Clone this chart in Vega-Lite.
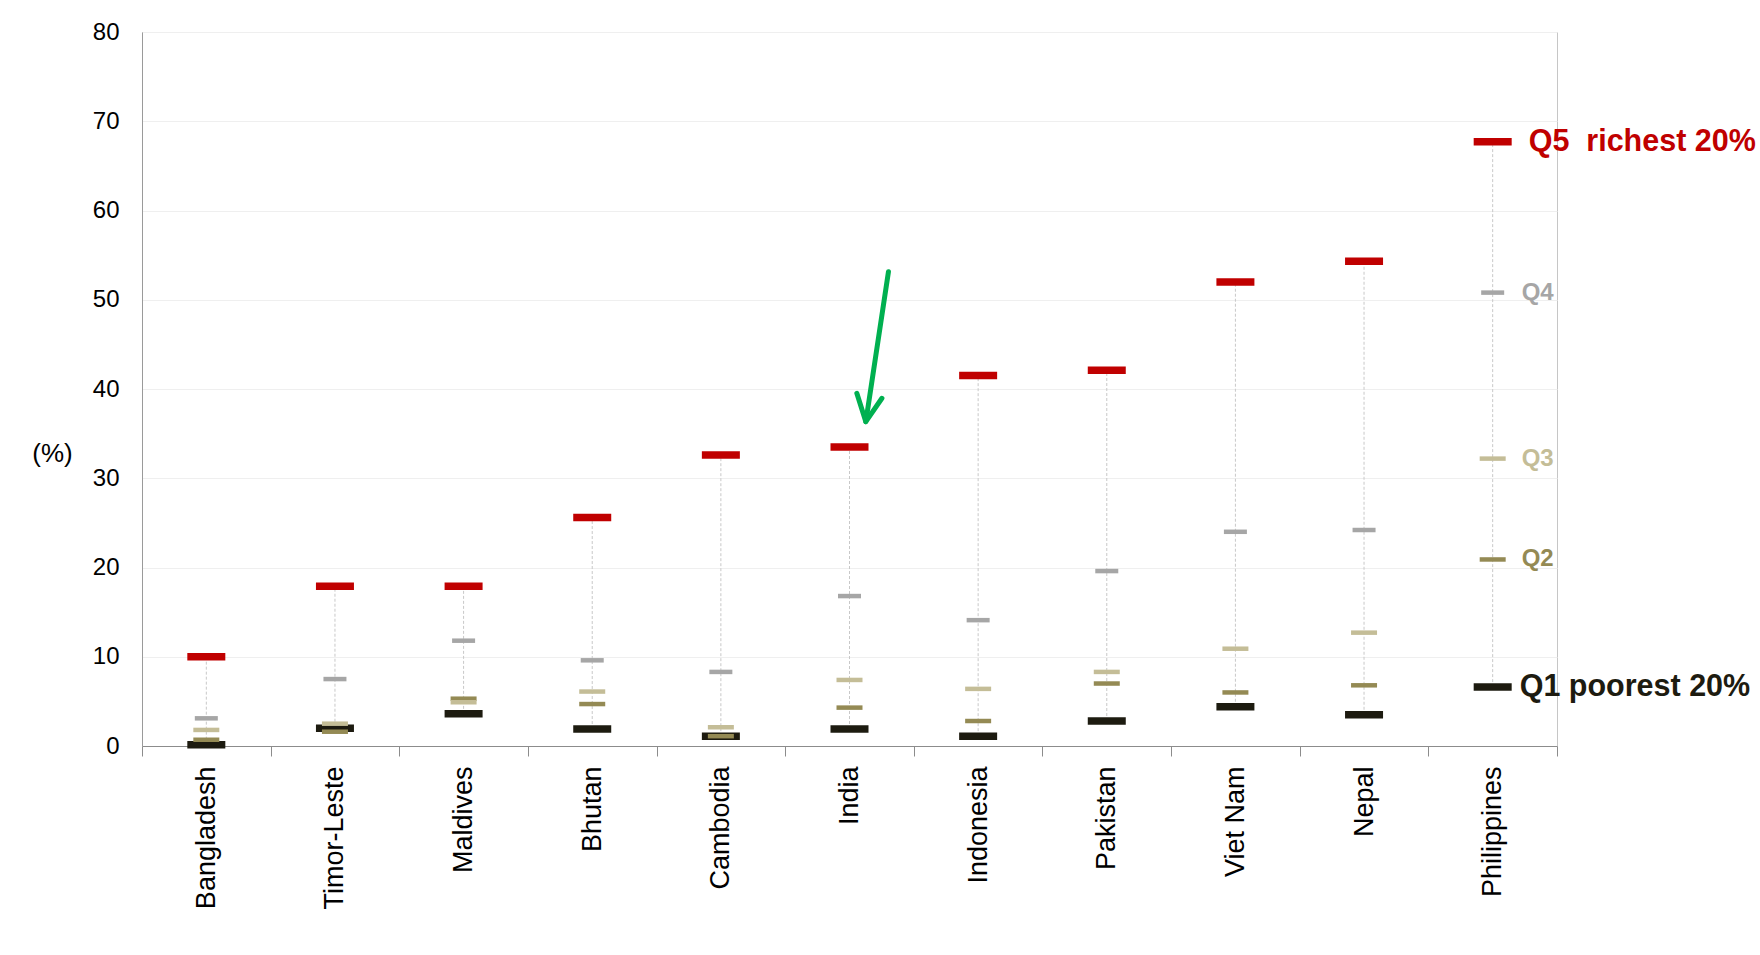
{
  "$schema": "https://vega.github.io/schema/vega-lite/v6.json",
  "width": 1415,
  "height": 714,
  "autosize": {"type": "none"},
  "padding": {"left": 142, "top": 32, "right": 203, "bottom": 209},
  "background": "white",
  "config": {
    "font": "Liberation Sans",
    "view": {"stroke": "#c6c6c6", "strokeWidth": 1},
    "tick": {"opacity": 1},
    "text": {"font": "Liberation Sans"}
  },
  "datasets": {
    "quintiles": [
      {"country": "Bangladesh", "quintile": "Q1", "value": 0.15},
      {"country": "Bangladesh", "quintile": "Q2", "value": 0.7},
      {"country": "Bangladesh", "quintile": "Q3", "value": 1.8},
      {"country": "Bangladesh", "quintile": "Q4", "value": 3.1},
      {"country": "Bangladesh", "quintile": "Q5", "value": 10.0},
      {"country": "Timor-Leste", "quintile": "Q1", "value": 2.0},
      {"country": "Timor-Leste", "quintile": "Q2", "value": 1.6},
      {"country": "Timor-Leste", "quintile": "Q3", "value": 2.5},
      {"country": "Timor-Leste", "quintile": "Q4", "value": 7.5},
      {"country": "Timor-Leste", "quintile": "Q5", "value": 17.9},
      {"country": "Maldives", "quintile": "Q1", "value": 3.6},
      {"country": "Maldives", "quintile": "Q2", "value": 5.3},
      {"country": "Maldives", "quintile": "Q3", "value": 4.9},
      {"country": "Maldives", "quintile": "Q4", "value": 11.8},
      {"country": "Maldives", "quintile": "Q5", "value": 17.9},
      {"country": "Bhutan", "quintile": "Q1", "value": 1.9},
      {"country": "Bhutan", "quintile": "Q2", "value": 4.7},
      {"country": "Bhutan", "quintile": "Q3", "value": 6.1},
      {"country": "Bhutan", "quintile": "Q4", "value": 9.6},
      {"country": "Bhutan", "quintile": "Q5", "value": 25.6},
      {"country": "Cambodia", "quintile": "Q1", "value": 1.1},
      {"country": "Cambodia", "quintile": "Q2", "value": 1.1},
      {"country": "Cambodia", "quintile": "Q3", "value": 2.1},
      {"country": "Cambodia", "quintile": "Q4", "value": 8.3},
      {"country": "Cambodia", "quintile": "Q5", "value": 32.6},
      {"country": "India", "quintile": "Q1", "value": 1.9},
      {"country": "India", "quintile": "Q2", "value": 4.3},
      {"country": "India", "quintile": "Q3", "value": 7.4},
      {"country": "India", "quintile": "Q4", "value": 16.8},
      {"country": "India", "quintile": "Q5", "value": 33.5},
      {"country": "Indonesia", "quintile": "Q1", "value": 1.1},
      {"country": "Indonesia", "quintile": "Q2", "value": 2.8},
      {"country": "Indonesia", "quintile": "Q3", "value": 6.4},
      {"country": "Indonesia", "quintile": "Q4", "value": 14.1},
      {"country": "Indonesia", "quintile": "Q5", "value": 41.5},
      {"country": "Pakistan", "quintile": "Q1", "value": 2.8},
      {"country": "Pakistan", "quintile": "Q2", "value": 7.0},
      {"country": "Pakistan", "quintile": "Q3", "value": 8.3},
      {"country": "Pakistan", "quintile": "Q4", "value": 19.6},
      {"country": "Pakistan", "quintile": "Q5", "value": 42.1},
      {"country": "Viet Nam", "quintile": "Q1", "value": 4.4},
      {"country": "Viet Nam", "quintile": "Q2", "value": 6.0},
      {"country": "Viet Nam", "quintile": "Q3", "value": 10.9},
      {"country": "Viet Nam", "quintile": "Q4", "value": 24.0},
      {"country": "Viet Nam", "quintile": "Q5", "value": 52.0},
      {"country": "Nepal", "quintile": "Q1", "value": 3.5},
      {"country": "Nepal", "quintile": "Q2", "value": 6.8},
      {"country": "Nepal", "quintile": "Q3", "value": 12.7},
      {"country": "Nepal", "quintile": "Q4", "value": 24.2},
      {"country": "Nepal", "quintile": "Q5", "value": 54.3},
      {"country": "Philippines", "quintile": "Q1", "value": 6.6, "label": "Q1 poorest 20%"},
      {"country": "Philippines", "quintile": "Q2", "value": 20.9, "label": "Q2"},
      {"country": "Philippines", "quintile": "Q3", "value": 32.2, "label": "Q3"},
      {"country": "Philippines", "quintile": "Q4", "value": 50.8, "label": "Q4"},
      {"country": "Philippines", "quintile": "Q5", "value": 67.7, "label": "Q5\u00a0 richest 20%"}
    ],
    "arrow": [
      {"part": "shaft", "ord": 1, "ax": 5.803, "value": 53.14},
      {"part": "shaft", "ord": 2, "ax": 5.627, "value": 36.34},
      {"part": "head", "ord": 1, "ax": 5.557, "value": 39.52},
      {"part": "head", "ord": 2, "ax": 5.627, "value": 36.34},
      {"part": "head", "ord": 3, "ax": 5.752, "value": 38.96}
    ]
  },
  "layer": [
    {
      "data": {"name": "quintiles"},
      "encoding": {
        "x": {
          "field": "country",
          "type": "nominal",
          "sort": null,
          "scale": {"paddingInner": 0, "paddingOuter": 0},
          "axis": {
            "title": null,
            "labelAngle": -90,
            "labelFontSize": 27,
            "labelColor": "#000000",
            "labelPadding": 10,
            "tickBand": "extent",
            "tickSize": 10,
            "tickColor": "#8c8c8c",
            "domainColor": "#8c8c8c",
            "grid": false
          }
        },
        "y": {
          "field": "value",
          "type": "quantitative",
          "scale": {"domain": [0, 80], "nice": false},
          "axis": {
            "values": [0, 10, 20, 30, 40, 50, 60, 70, 80],
            "grid": true,
            "gridColor": "#efefef",
            "ticks": false,
            "domainColor": "#9a9a9a",
            "labelFontSize": 24,
            "labelColor": "#000000",
            "labelPadding": 23,
            "labelFlush": false,
            "title": "(%)",
            "titleAngle": 0,
            "titleX": -90,
            "titleY": 421,
            "titleAlign": "center",
            "titleBaseline": "middle",
            "titleFontSize": 26,
            "titleFontWeight": "normal",
            "titleColor": "#000000"
          }
        },
        "color": {
          "field": "quintile",
          "type": "nominal",
          "scale": {
            "domain": ["Q1", "Q2", "Q3", "Q4", "Q5"],
            "range": ["#1D1B10", "#948A54", "#C4BD97", "#A6A6A6", "#C00000"]
          },
          "legend": null
        }
      },
      "layer": [
        {
          "mark": {"type": "rule", "color": "#c8c8c8", "strokeWidth": 1, "strokeDash": [3, 2]},
          "encoding": {
            "y": {"field": "value", "type": "quantitative", "aggregate": "min"},
            "y2": {"field": "value", "aggregate": "max"},
            "color": {"value": "#c8c8c8"}
          }
        },
        {
          "transform": [{"filter": "datum.quintile == 'Q1' || datum.quintile == 'Q5'"}],
          "mark": {"type": "tick", "size": 38, "thickness": 7.5}
        },
        {
          "transform": [{"filter": "datum.quintile == 'Q2' || datum.quintile == 'Q3'"}],
          "mark": {"type": "tick", "size": 26, "thickness": 4.5}
        },
        {
          "transform": [{"filter": "datum.quintile == 'Q4'"}],
          "mark": {"type": "tick", "size": 23, "thickness": 4.5}
        },
        {
          "transform": [{"filter": "datum.label != null && datum.quintile == 'Q5'"}],
          "mark": {"type": "text", "align": "left", "baseline": "middle", "dx": 36, "fontSize": 30.5, "fontWeight": "bold"},
          "encoding": {"text": {"field": "label"}}
        },
        {
          "transform": [{"filter": "datum.label != null && datum.quintile == 'Q1'"}],
          "mark": {"type": "text", "align": "left", "baseline": "middle", "dx": 27, "fontSize": 30.5, "fontWeight": "bold"},
          "encoding": {"text": {"field": "label"}}
        },
        {
          "transform": [{"filter": "datum.label != null && datum.quintile != 'Q1' && datum.quintile != 'Q5'"}],
          "mark": {"type": "text", "align": "left", "baseline": "middle", "dx": 29, "fontSize": 24, "fontWeight": "bold"},
          "encoding": {"text": {"field": "label"}}
        }
      ]
    },
    {
      "data": {"name": "arrow"},
      "mark": {"type": "line", "color": "#00B050", "strokeWidth": 5, "strokeCap": "round", "strokeJoin": "round"},
      "encoding": {
        "x": {"field": "ax", "type": "quantitative", "scale": {"domain": [0, 11], "nice": false, "zero": false}, "axis": null},
        "y": {"field": "value", "type": "quantitative", "scale": {"domain": [0, 80], "nice": false}, "axis": {"title": "(%)"}},
        "detail": {"field": "part", "type": "nominal"},
        "order": {"field": "ord", "type": "quantitative"}
      }
    }
  ],
  "resolve": {"scale": {"x": "independent"}, "axis": {"x": "independent"}}
}
